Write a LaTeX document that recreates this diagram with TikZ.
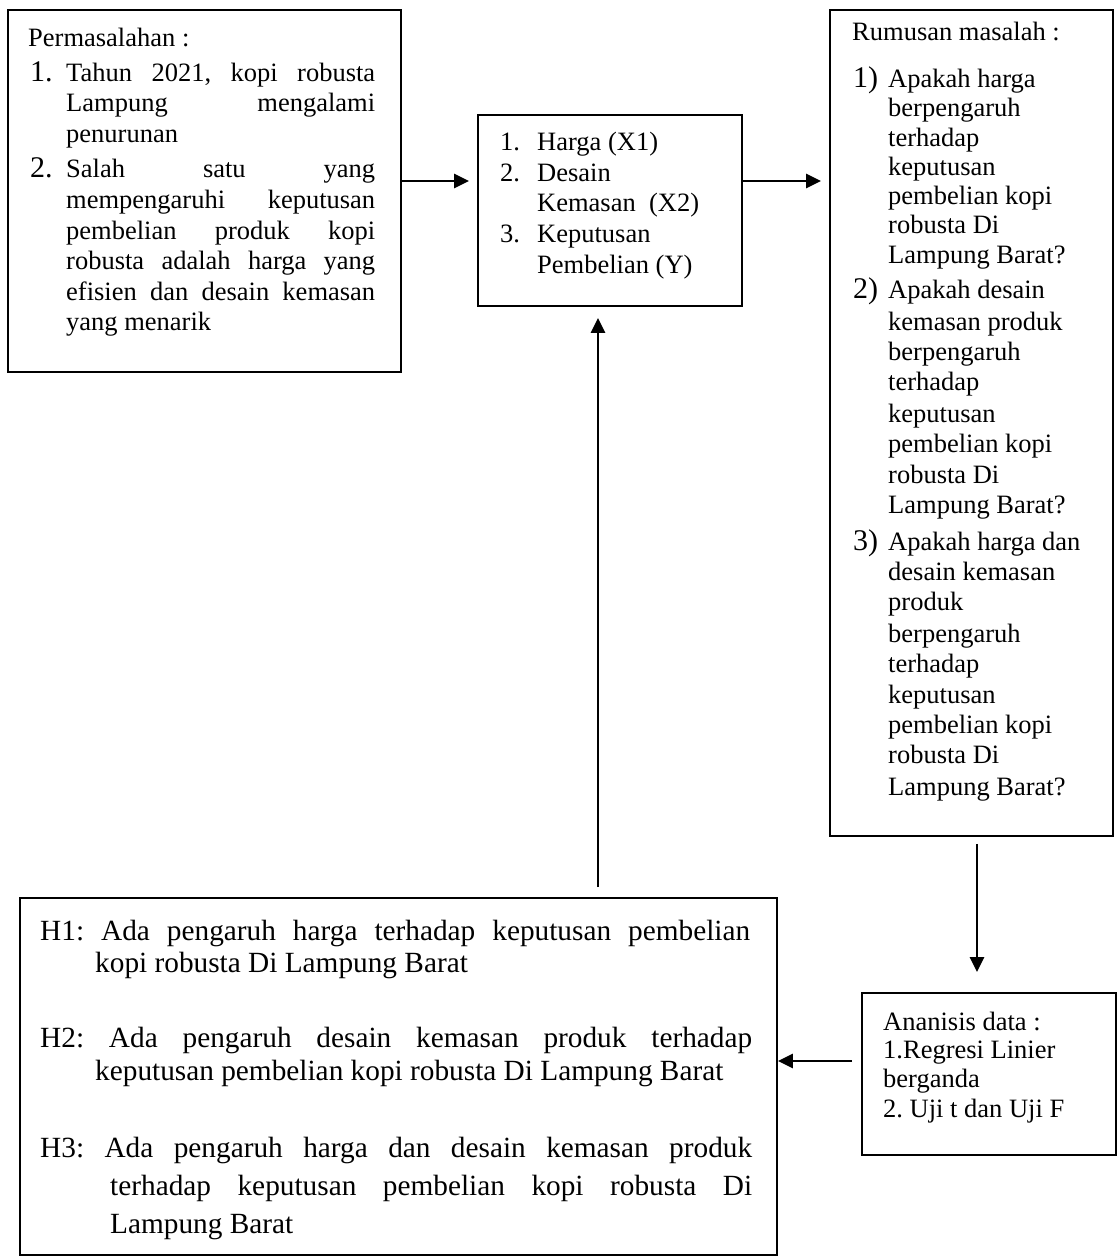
\documentclass[tikz,border=0pt]{standalone}
\usepackage{fontspec}
\setmainfont{Liberation Serif}
\usetikzlibrary{arrows.meta}
\frenchspacing
\newcommand\fa{\fontsize{26.5}{30}\selectfont}
\newcommand\fb{\fontsize{29.3}{33}\selectfont}
\newcommand\fnum{\fontsize{30}{33}\selectfont}
\newcommand\jl[2]{\makebox[#1pt][s]{#2}}
\begin{document}
\begin{tikzpicture}[x=1pt,y=-1pt,
  box/.style={draw, line width=1.8pt, inner sep=0pt},
  txt/.style={anchor=base west, inner sep=0pt, font=\frenchspacing},
  arr/.style={line width=2.8pt, -{Triangle[length=15pt,width=14pt]}}]
\useasboundingbox (0,0) rectangle (1117,1258);
% boxes
\node[box, minimum width=393pt, minimum height=362pt] (A) at (204.5,191) {};
\node[box, minimum width=264pt, minimum height=191pt] (B) at (610,210.5) {};
\node[box, minimum width=283pt, minimum height=826pt] (C) at (971.5,423) {};
\node[box, minimum width=757pt, minimum height=357pt] (D) at (398.5,1076.5) {};
\node[box, minimum width=254pt, minimum height=162pt] (E) at (989,1074) {};
% box A text
\node[txt] (a0) at (28,46) {\fa Permasalahan :};
\node[txt] (a1n) at (30,81) {\fnum 1.};
\node[txt] (a1) at (66,81) {\fa\jl{309}{Tahun 2021, kopi robusta}};
\node[txt] (a2) at (66,111) {\fa\jl{309}{Lampung mengalami}};
\node[txt] (a3) at (66,142) {\fa penurunan};
\node[txt] (a4n) at (30,177) {\fnum 2.};
\node[txt] (a4) at (66,177) {\fa\jl{309}{Salah satu yang}};
\node[txt] (a5) at (66,208) {\fa\jl{309}{mempengaruhi keputusan}};
\node[txt] (a6) at (66,239) {\fa\jl{309}{pembelian produk kopi}};
\node[txt] (a7) at (66,269) {\fa\jl{309}{robusta adalah harga yang}};
\node[txt] (a8) at (66,300) {\fa\jl{309}{efisien dan desain kemasan}};
\node[txt] (a9) at (66,330) {\fa yang menarik};
% box B text
\node[txt] (b1n) at (500,150) {\fa 1.};
\node[txt] (b1) at (537,150) {\fa Harga (X1)};
\node[txt] (b2n) at (500,181) {\fa 2.};
\node[txt] (b2) at (537,181) {\fa Desain};
\node[txt] (b3) at (537,211) {\fa Kemasan\ \ (X2)};
\node[txt] (b4n) at (500,242) {\fa 3.};
\node[txt] (b4) at (537,242) {\fa Keputusan};
\node[txt] (b5) at (537,273) {\fa Pembelian (Y)};
% box C text
\node[txt] (c0) at (852,40) {\fa Rumusan masalah :};
\node[txt] (c1n) at (853,87) {\fnum 1)};
\node[txt] (c1) at (888,87) {\fa Apakah harga};
\node[txt] (c2) at (888,116) {\fa berpengaruh};
\node[txt] (c3) at (888,146) {\fa terhadap};
\node[txt] (c4) at (888,175) {\fa keputusan};
\node[txt] (c5) at (888,204) {\fa pembelian kopi};
\node[txt] (c6) at (888,233) {\fa robusta Di};
\node[txt] (c7) at (888,263) {\fa Lampung Barat?};
\node[txt] (c8n) at (853,298) {\fnum 2)};
\node[txt] (c8) at (888,298) {\fa Apakah desain};
\node[txt] (c9) at (888,330) {\fa kemasan produk};
\node[txt] (c10) at (888,360) {\fa berpengaruh};
\node[txt] (c11) at (888,390) {\fa terhadap};
\node[txt] (c12) at (888,422) {\fa keputusan};
\node[txt] (c13) at (888,452) {\fa pembelian kopi};
\node[txt] (c14) at (888,483) {\fa robusta Di};
\node[txt] (c15) at (888,513) {\fa Lampung Barat?};
\node[txt] (c16n) at (853,550) {\fnum 3)};
\node[txt] (c16) at (888,550) {\fa Apakah harga dan};
\node[txt] (c17) at (888,580) {\fa desain kemasan};
\node[txt] (c18) at (888,610) {\fa produk};
\node[txt] (c19) at (888,642) {\fa berpengaruh};
\node[txt] (c20) at (888,672) {\fa terhadap};
\node[txt] (c21) at (888,703) {\fa keputusan};
\node[txt] (c22) at (888,733) {\fa pembelian kopi};
\node[txt] (c23) at (888,763) {\fa robusta Di};
\node[txt] (c24) at (888,795) {\fa Lampung Barat?};
% box D text
\node[txt] (d1) at (40,940) {\fb\jl{710}{H1: Ada pengaruh harga terhadap keputusan pembelian}};
\node[txt] (d2) at (95,972) {\fb kopi robusta Di Lampung Barat};
\node[txt] (d3) at (40,1047) {\fb\jl{712}{H2: Ada pengaruh desain kemasan produk terhadap}};
\node[txt] (d4) at (95,1080) {\fb keputusan pembelian kopi robusta Di Lampung Barat};
\node[txt] (d5) at (40,1157) {\fb\jl{712}{H3: Ada pengaruh harga dan desain kemasan produk}};
\node[txt] (d6) at (110,1195) {\fb\jl{642}{terhadap keputusan pembelian kopi robusta Di}};
\node[txt] (d7) at (110,1233) {\fb Lampung Barat};
% box E text
\node[txt] (e1) at (883,1030) {\fa Ananisis data :};
\node[txt] (e2) at (883,1058) {\fa 1.Regresi Linier};
\node[txt] (e3) at (883,1087) {\fa berganda};
\node[txt] (e4) at (883,1117) {\fa 2. Uji t dan Uji F};
% connectors
\coordinate (yab) at (0,181);
\coordinate (xup) at (598,0);
\coordinate (xdn) at (977,0);
\coordinate (yed) at (0,1061);
\draw[arr, shorten >=8pt] (A.east |- yab) -- (B.west |- yab);
\draw[arr, shorten >=8pt] (B.east |- yab) -- (C.west |- yab);
\draw[arr, shorten <=10pt, shorten >=11pt] (D.north -| xup) -- (B.south -| xup);
\draw[arr, shorten <=7pt, shorten >=20pt] (C.south -| xdn) -- (E.north -| xdn);
\draw[arr, shorten <=9pt] (E.west |- yed) -- (D.east |- yed);
\end{tikzpicture}
\end{document}
